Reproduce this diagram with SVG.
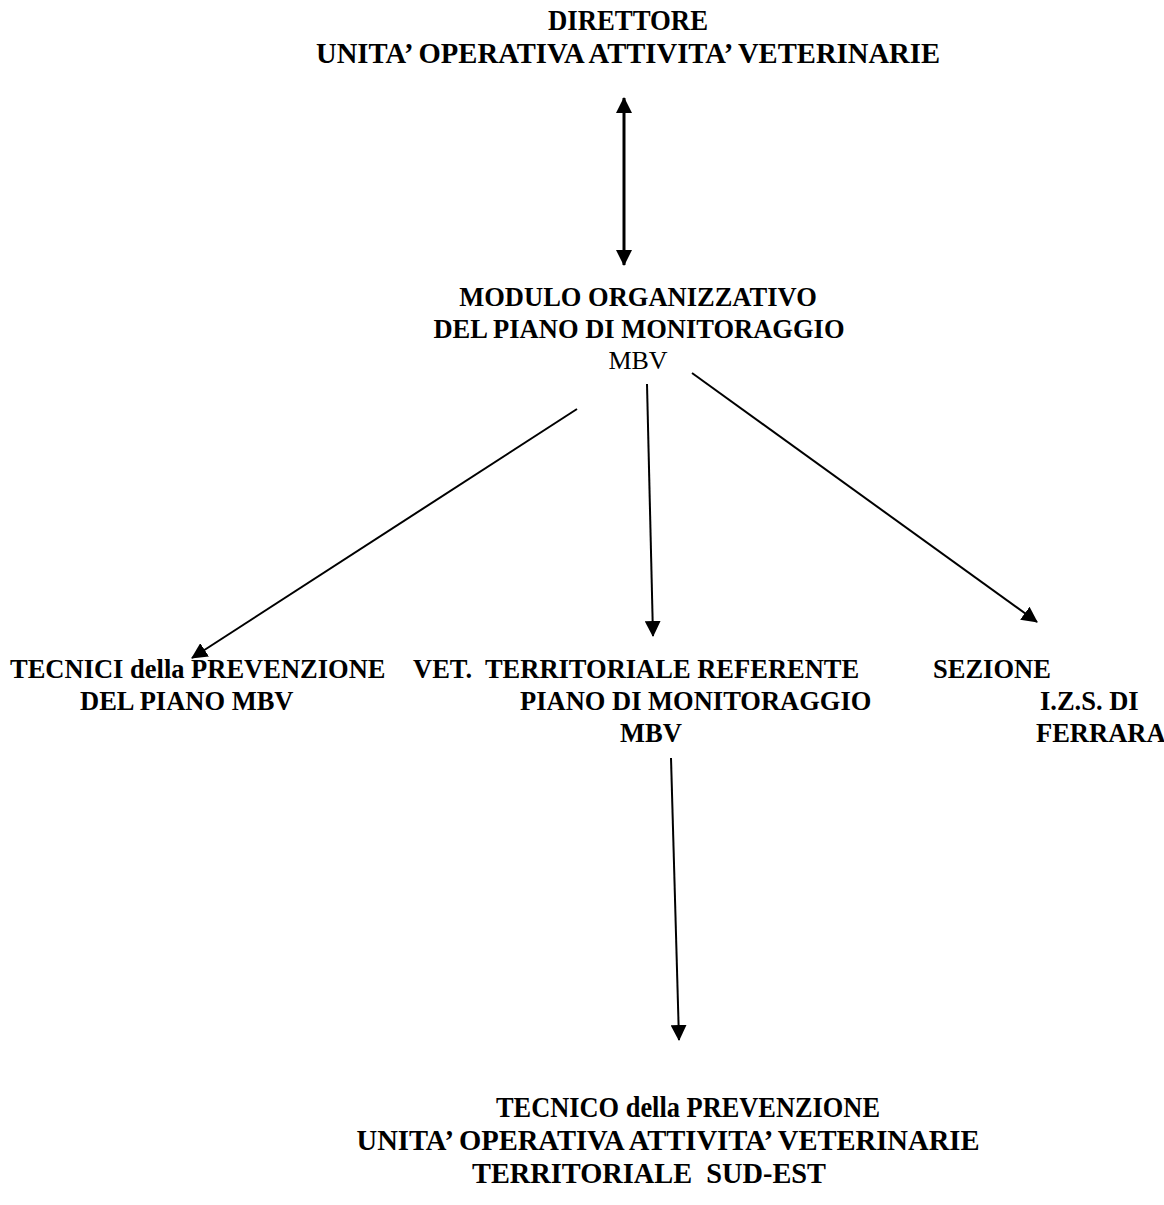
<svg xmlns="http://www.w3.org/2000/svg" width="1164" height="1205" viewBox="0 0 1164 1205">
<style>
.b{font-family:"Liberation Serif","Times New Roman",serif;font-weight:bold;font-size:26.5px;fill:#000}
.r{font-family:"Liberation Serif","Times New Roman",serif;font-size:26px;fill:#000}
.c{font-family:"Liberation Serif","Times New Roman",serif;font-weight:bold;font-size:30px;fill:#000}
.l{stroke:#000;stroke-width:2;fill:none}
.t{stroke:#000;stroke-width:3;fill:none}
</style>
<defs>
<marker id="ah" markerUnits="userSpaceOnUse" viewBox="0 0 16 16" refX="15" refY="8" markerWidth="16" markerHeight="16" orient="auto-start-reverse">
<path d="M0,0 L16,8 L0,16 Z" fill="#000"/>
</marker>
</defs>
<rect width="1164" height="1205" fill="#fff"/>
<g id="connectors">
<line class="t" x1="624" y1="98" x2="624" y2="265" marker-start="url(#ah)" marker-end="url(#ah)"/>
<line class="l" x1="577" y1="409" x2="192" y2="658" marker-end="url(#ah)"/>
<line class="l" x1="647" y1="384" x2="653" y2="636" marker-end="url(#ah)"/>
<line class="l" x1="692" y1="373" x2="1037" y2="622" marker-end="url(#ah)"/>
<line class="l" x1="671" y1="758" x2="679" y2="1040" marker-end="url(#ah)"/>
</g>
<g id="direttore">
<text class="c" x="628" y="30" text-anchor="middle" textLength="160" lengthAdjust="spacingAndGlyphs">DIRETTORE</text>
<text class="c" x="628" y="63" text-anchor="middle" textLength="624" lengthAdjust="spacingAndGlyphs">UNITA’ OPERATIVA ATTIVITA’ VETERINARIE</text>
</g>
<g id="modulo">
<text class="b" x="638" y="306" text-anchor="middle">MODULO ORGANIZZATIVO</text>
<text class="b" x="639" y="338" text-anchor="middle">DEL PIANO DI MONITORAGGIO</text>
<text class="r" x="638" y="369" text-anchor="middle">MBV</text>
</g>
<g id="tecnici">
<text class="b" x="10" y="678">TECNICI della PREVENZIONE</text>
<text class="b" x="80" y="710">DEL PIANO MBV</text>
</g>
<g id="vet">
<text class="b" x="413" y="678" xml:space="preserve">VET.  TERRITORIALE REFERENTE</text>
<text class="b" x="520" y="710">PIANO DI MONITORAGGIO</text>
<text class="b" x="620" y="742">MBV</text>
</g>
<g id="sezione">
<text class="b" x="933" y="678">SEZIONE</text>
<text class="b" x="1040" y="710">I.Z.S. DI</text>
<text class="b" x="1036" y="742">FERRARA</text>
</g>
<g id="tecnico">
<text class="c" x="688" y="1117" text-anchor="middle" textLength="384" lengthAdjust="spacingAndGlyphs">TECNICO della PREVENZIONE</text>
<text class="c" x="668" y="1150" text-anchor="middle" textLength="623" lengthAdjust="spacingAndGlyphs">UNITA’ OPERATIVA ATTIVITA’ VETERINARIE</text>
<text class="c" x="649" y="1183" text-anchor="middle" textLength="354" lengthAdjust="spacingAndGlyphs" xml:space="preserve">TERRITORIALE  SUD-EST</text>
</g>
</svg>
